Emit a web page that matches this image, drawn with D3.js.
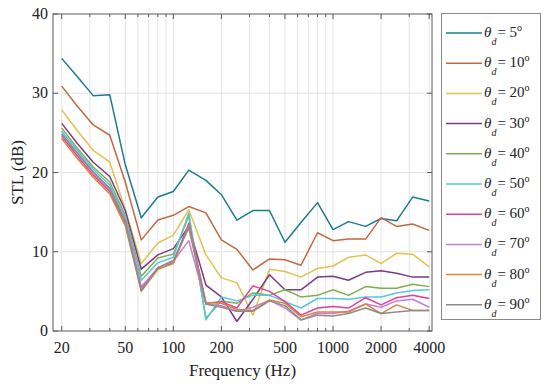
<!DOCTYPE html>
<html>
  <head>
    <meta charset="utf-8">
    <title>STL vs frequency</title>
    <script src="https://d3js.org/d3.v7.min.js"></script>
    <style>
      body { margin: 0; background: #fff; }
      svg text { fill: #222; }
    </style>
  </head>
  <body>
    <svg id="chart" width="550" height="388"></svg>
    <script>
      // 1/3 octave band centre frequencies
      var freqs = [20, 25, 31.5, 40, 50, 63, 80, 100, 125, 160, 200, 250, 315, 400, 500, 630, 800, 1000, 1250, 1600, 2000, 2500, 3150, 4000];

      var stl5  = [34.4, 32.1, 29.7, 29.8, 21.0, 14.3, 16.9, 17.6, 20.3, 19.0, 17.2, 14.0, 15.2, 15.2, 11.2, 13.7, 16.2, 12.8, 13.8, 13.2, 14.2, 13.9, 16.9, 16.4];
      var stl10 = [30.9, 28.4, 26.0, 24.7, 18.8, 11.5, 14.0, 14.6, 15.7, 14.9, 11.5, 10.3, 7.7, 9.1, 9.0, 8.3, 12.4, 11.4, 11.6, 11.6, 14.3, 13.2, 13.5, 12.7];
      var stl20 = [27.9, 25.3, 22.8, 21.3, 15.3, 8.5, 11.1, 12.1, 15.3, 9.6, 6.7, 6.1, 2.0, 7.8, 7.5, 6.8, 7.9, 8.2, 9.3, 9.6, 8.5, 9.8, 9.7, 8.1];
      var stl30 = [26.2, 23.7, 21.3, 19.5, 15.2, 7.8, 9.6, 10.4, 13.2, 5.8, 4.3, 1.2, 4.0, 7.1, 5.2, 5.2, 6.8, 6.9, 6.4, 7.4, 7.6, 7.3, 6.8, 6.8];
      var stl40 = [25.6, 23.1, 20.7, 18.8, 14.6, 6.9, 9.2, 9.7, 14.5, 1.6, 3.8, 3.5, 4.8, 4.5, 5.2, 4.3, 4.5, 5.2, 4.5, 5.6, 5.4, 5.4, 5.9, 5.6];
      var stl50 = [25.2, 22.8, 20.4, 18.4, 14.3, 6.4, 8.6, 9.3, 14.9, 1.4, 4.3, 3.8, 4.5, 4.5, 3.7, 2.9, 4.1, 4.1, 4.0, 4.3, 4.3, 4.8, 5.1, 5.2];
      var stl60 = [24.6, 22.1, 19.7, 17.6, 13.6, 5.4, 8.0, 8.6, 13.6, 3.5, 3.7, 2.9, 5.7, 5.0, 3.7, 2.0, 2.9, 3.1, 2.9, 4.2, 3.3, 4.2, 4.5, 4.1];
      var stl70 = [24.8, 22.4, 20.0, 17.9, 14.0, 5.6, 7.9, 8.8, 11.4, 3.4, 3.2, 2.5, 3.0, 3.9, 2.9, 1.4, 2.2, 2.2, 2.5, 3.4, 3.0, 3.8, 4.0, 3.0];
      var stl80 = [24.3, 21.8, 19.4, 17.3, 13.3, 5.0, 7.8, 8.5, 13.3, 3.6, 3.5, 2.7, 2.6, 3.9, 3.5, 1.8, 2.4, 2.4, 2.4, 3.4, 2.2, 3.3, 2.6, 2.6];
      var stl90 = [24.9, 22.5, 20.1, 18.0, 13.8, 5.1, 8.0, 8.9, 13.0, 3.4, 3.0, 2.5, 2.5, 3.8, 3.2, 1.4, 2.0, 1.9, 2.2, 2.9, 2.2, 2.4, 2.6, 2.6];

      var angles = [5, 10, 20, 30, 40, 50, 60, 70, 80, 90];
      var colors = ["#1b7b94", "#c3683f", "#e2c14e", "#7b3a86", "#7fae4c", "#55c8dc", "#e2409e", "#c77fd6", "#d9853d", "#8c8c8c"];

      var xTickLabels = [20, 50, 100, 200, 500, 1000, 2000, 4000];
      var yTickLabels = [0, 10, 20, 30, 40];

      var series = [stl5, stl10, stl20, stl30, stl40, stl50, stl60, stl70, stl80, stl90];

      var serif = "Times New Roman, Times, Liberation Serif, Tinos, DejaVu Serif, Noto Serif, serif";

      // plot area
      var margin = { top: 14, left: 53 };
      var width = 379;
      var height = 317;

      var svg = d3.select("#chart");
      var g = svg.append("g")
        .attr("transform", "translate(" + margin.left + "," + margin.top + ")");

      var x = d3.scaleLog()
        .domain([17.64, 4166])
        .range([0, width]);

      var y = d3.scaleLinear()
        .domain([0, 40])
        .range([height, 0]);

      // log grid: 20..90, 100..900, 1000..4000
      var gridX = [];
      [10, 100, 1000].forEach(function(dec) {
        for (var k = 1; k <= 9; k++) {
          var v = k * dec;
          if (v >= 20 && v <= 4000) gridX.push(v);
        }
      });

      g.selectAll(".vgrid")
        .data(gridX)
        .enter().append("line")
        .attr("x1", function(d) { return x(d); })
        .attr("x2", function(d) { return x(d); })
        .attr("y1", 0)
        .attr("y2", height)
        .style("stroke", "#e4e4e4")
        .style("stroke-width", 1);

      g.selectAll(".hgrid")
        .data([10, 20, 30])
        .enter().append("line")
        .attr("x1", 0)
        .attr("x2", width)
        .attr("y1", function(d) { return y(d); })
        .attr("y2", function(d) { return y(d); })
        .style("stroke", "#e4e4e4")
        .style("stroke-width", 1);

      // curves
      var line = d3.line()
        .x(function(d, i) { return x(freqs[i]); })
        .y(function(d) { return y(d); });

      series.forEach(function(s, i) {
        g.append("path")
          .datum(s)
          .attr("d", line)
          .style("fill", "none")
          .style("stroke", colors[i])
          .style("stroke-width", 1.5)
          .style("stroke-linejoin", "round");
      });

      // box
      g.append("rect")
        .attr("width", width)
        .attr("height", height)
        .style("fill", "none")
        .style("stroke", "#5a5a5a")
        .style("stroke-width", 1);

      // x ticks (inward, top and bottom)
      gridX.forEach(function(v) {
        var len = xTickLabels.indexOf(v) >= 0 ? 5 : 3;
        g.append("line")
          .attr("x1", x(v)).attr("x2", x(v))
          .attr("y1", height).attr("y2", height - len)
          .style("stroke", "#5a5a5a");
        g.append("line")
          .attr("x1", x(v)).attr("x2", x(v))
          .attr("y1", 0).attr("y2", len)
          .style("stroke", "#5a5a5a");
      });

      g.selectAll(".xlab")
        .data(xTickLabels)
        .enter().append("text")
        .attr("x", function(d) { return x(d); })
        .attr("y", height + 22)
        .attr("text-anchor", "middle")
        .attr("font-family", serif)
        .attr("font-size", 16)
        .text(function(d) { return d; });

      // y ticks
      yTickLabels.forEach(function(v) {
        g.append("line")
          .attr("x1", 0).attr("x2", 5)
          .attr("y1", y(v)).attr("y2", y(v))
          .style("stroke", "#5a5a5a");
        g.append("line")
          .attr("x1", width).attr("x2", width - 5)
          .attr("y1", y(v)).attr("y2", y(v))
          .style("stroke", "#5a5a5a");
      });

      g.selectAll(".ylab")
        .data(yTickLabels)
        .enter().append("text")
        .attr("x", -5)
        .attr("y", function(d) { return y(d) + 5; })
        .attr("text-anchor", "end")
        .attr("font-family", serif)
        .attr("font-size", 16)
        .text(function(d) { return d; });

      // axis titles
      svg.append("text")
        .attr("x", margin.left + width / 2)
        .attr("y", 376)
        .attr("text-anchor", "middle")
        .attr("font-family", serif)
        .attr("font-size", 17)
        .text("Frequency (Hz)");

      svg.append("text")
        .attr("transform", "translate(23," + (margin.top + height / 2) + ") rotate(-90)")
        .attr("text-anchor", "middle")
        .attr("font-family", serif)
        .attr("font-size", 17)
        .text("STL (dB)");

      // legend
      var legend = svg.append("g");
      legend.append("rect")
        .attr("x", 441.5)
        .attr("y", 13.5)
        .attr("width", 99)
        .attr("height", 306)
        .style("fill", "#fff")
        .style("stroke", "#8a8a8a");

      angles.forEach(function(a, i) {
        var cy = 33 + i * 30.2;
        legend.append("line")
          .attr("x1", 446).attr("x2", 482)
          .attr("y1", cy).attr("y2", cy)
          .style("stroke", colors[i])
          .style("stroke-width", 1.5);
        var t = legend.append("text")
          .attr("x", 484)
          .attr("y", cy + 4)
          .attr("font-family", serif)
          .attr("font-size", 15);
        t.append("tspan").attr("font-style", "italic").text("θ");
        t.append("tspan").attr("dy", 8)
          .attr("font-style", "italic").attr("font-size", 10).text("d");
        t.append("tspan").attr("dx", 1).attr("dy", -8).text("= " + a);
        t.append("tspan").attr("dy", -6).attr("font-size", 10).text("o");
      });
    </script>
  </body>
</html>
